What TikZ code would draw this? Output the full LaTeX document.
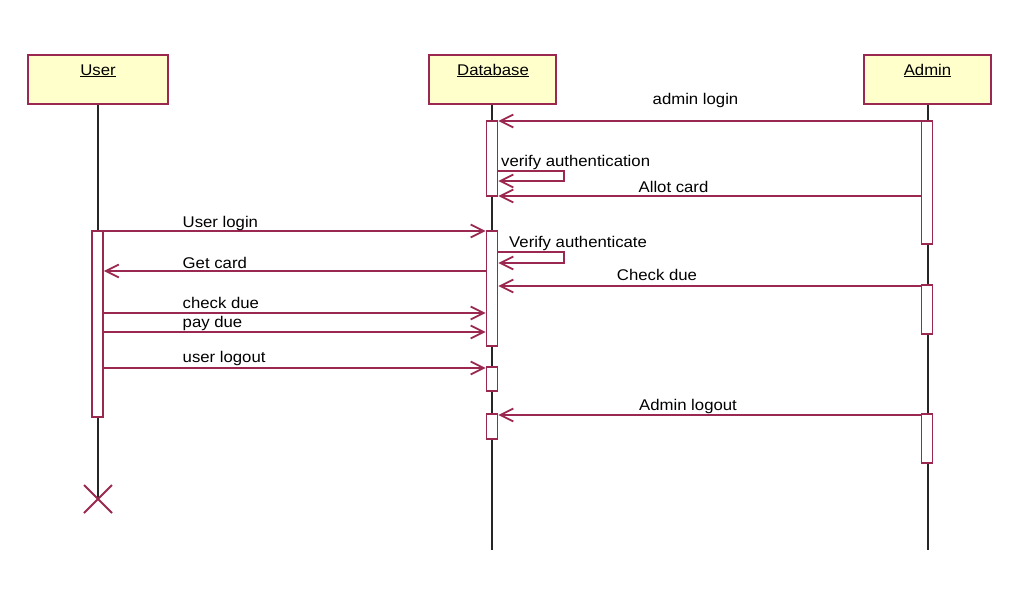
\documentclass[tikz,border=0pt]{standalone}
\usepackage{fontspec}
\setmainfont{Liberation Sans}[FakeStretch=1.08]
\usetikzlibrary{arrows.meta,calc}
\definecolor{mar}{RGB}{155,40,80}
\definecolor{objfill}{RGB}{255,255,204}
\newcommand{\lbfont}{\fontsize{15.5}{18}\selectfont}
\tikzset{
  obj/.style={draw=mar, fill=objfill, line width=2pt, minimum width=127pt, minimum height=49pt, inner sep=0pt},
  act/.style={draw=mar, fill=white, line width=1.7pt, minimum width=11pt, inner sep=0pt},
  life/.style={draw=black!85, line width=1.9pt},
  msg/.style={draw=mar, line width=1.8pt, -{Straight Barb[length=13pt,width=13pt,line width=1.8pt]}},
  lbl/.style={font=\lbfont, inner sep=0pt, text=black},
}
\begin{document}
\begin{tikzpicture}[x=1pt,y=-1pt]
\useasboundingbox[fill=white] (0,0) rectangle (1022,603);
% objects
\node[obj, minimum width=140pt] (user) at (98,79.5) {};
\node[obj] (db) at (492,79.5) {};
\node[obj] (adm) at (927.5,79.5) {};
\node[lbl, anchor=base] (userT) at (98,75) {\underline{User}};
\node[lbl, anchor=base] (dbT) at (493,75) {\underline{Database}};
\node[lbl, anchor=base] (admT) at (927.5,75) {\underline{Admin}};
% lifeline ends
\coordinate (xend) at (98,499);
\coordinate (dbend) at (492,550);
\coordinate (admend) at (928,550);
\draw[life] (user.south) -- (xend);
\draw[life] (db.south) -- (dbend);
\draw[life] (adm.south -| admend) -- (admend);
% destruction mark
\draw[draw=mar, line width=2pt] ($(xend)+(-14,-14)$) -- ($(xend)+(14,14)$) ($(xend)+(-14,14)$) -- ($(xend)+(14,-14)$);
% activations
\node[act, minimum height=75pt] (db1) at (492,158.5) {};
\node[act, minimum height=115pt] (db2) at (492,288.5) {};
\node[act, minimum height=24pt] (db3) at (492,379) {};
\node[act, minimum height=25pt] (db4) at (492,426.5) {};
\node[act, minimum height=123pt] (ad1) at (927,182.5) {};
\node[act, minimum height=49pt] (ad2) at (927,309.5) {};
\node[act, minimum height=49pt] (ad3) at (927,438.5) {};
\node[act, minimum height=186pt] (us1) at (97.5,324) {};
% messages
\draw[msg] (ad1.west |- 0,121) -- (db1.east |- 0,121);
\node[lbl, anchor=base] (m1) at (695.5,104) {admin login};
\draw[msg] (db1.east |- 0,171) -- ++(66,0) -- ++(0,10) -- (db1.east |- 0,181);
\node[lbl, anchor=base west] (m2) at (501,166) {verify authentication};
\draw[msg] (ad1.west |- 0,196) -- (db1.east |- 0,196);
\node[lbl, anchor=base] (m3) at (673.5,192) {Allot card};
\draw[msg] (us1.east |- 0,231) -- (db2.west |- 0,231);
\node[lbl, anchor=base west] (m4) at (182.5,227) {User login};
\draw[msg] (db2.east |- 0,252) -- ++(66,0) -- ++(0,11) -- (db2.east |- 0,263);
\node[lbl, anchor=base west] (m5) at (509,247) {Verify authenticate};
\draw[msg] (db2.west |- 0,271) -- (us1.east |- 0,271);
\node[lbl, anchor=base west] (m6) at (182.5,268) {Get card};
\draw[msg] (ad2.west |- 0,286) -- (db2.east |- 0,286);
\node[lbl, anchor=base] (m7) at (657,280.5) {Check due};
\draw[msg] (us1.east |- 0,313) -- (db2.west |- 0,313);
\node[lbl, anchor=base west] (m8) at (182.5,308) {check due};
\draw[msg] (us1.east |- 0,332) -- (db2.west |- 0,332);
\node[lbl, anchor=base west] (m9) at (182.5,327) {pay due};
\draw[msg] (us1.east |- 0,368) -- (db3.west |- 0,368);
\node[lbl, anchor=base west] (m10) at (182.5,362) {user logout};
\draw[msg] (ad3.west |- 0,415) -- (db4.east |- 0,415);
\node[lbl, anchor=base] (m11) at (688,410) {Admin logout};
\end{tikzpicture}
\end{document}
